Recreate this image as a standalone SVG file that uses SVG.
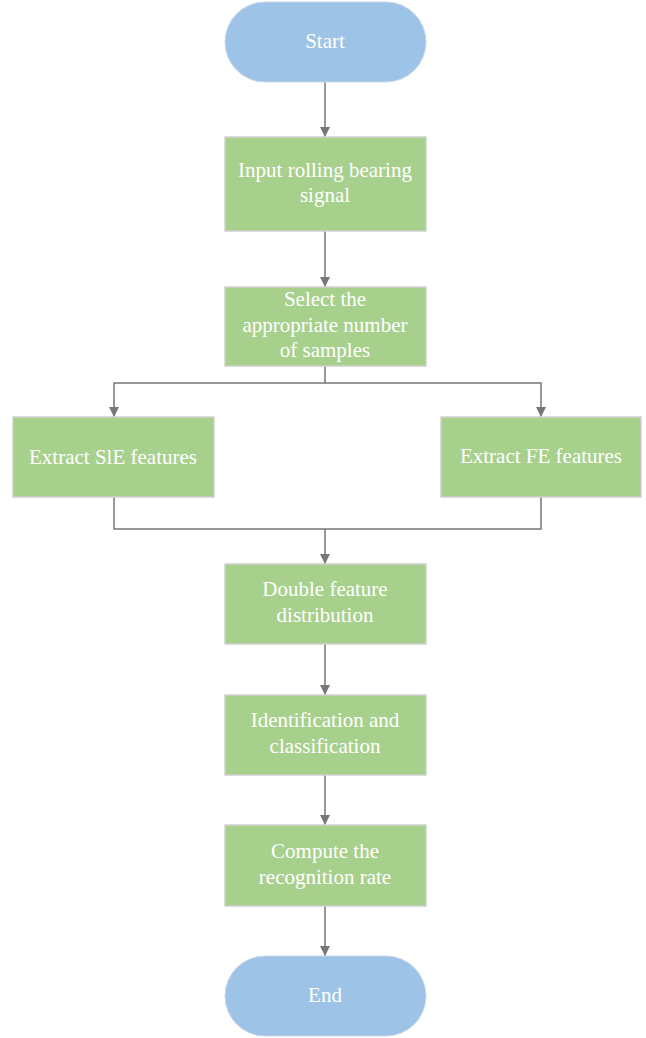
<svg xmlns="http://www.w3.org/2000/svg" width="646" height="1038" viewBox="0 0 646 1038">
<style>
.term{fill:#9dc3e6;stroke:#c8d8ea;stroke-width:1}
.box{fill:#a8d08d;stroke:#cfcfcf;stroke-width:1.5}
.t{font-family:'Liberation Serif','Times New Roman',serif;font-size:21px;fill:#ffffff;text-anchor:middle}
.c{fill:none;stroke:#777777;stroke-width:1.5}
</style>
<defs>
<marker id="ah" markerWidth="10" markerHeight="10" refX="10" refY="5" orient="auto" markerUnits="userSpaceOnUse">
<path d="M0,0 L10,5 L0,10 Z" fill="#777777"/>
</marker>
</defs>
<rect width="646" height="1038" fill="#ffffff"/>
<g id="connectors">
<path class="c" d="M325,82 V137" marker-end="url(#ah)"/>
<path class="c" d="M325,231 V287" marker-end="url(#ah)"/>
<path class="c" d="M325,366 V383 H114 V417" marker-end="url(#ah)"/>
<path class="c" d="M325,383 H541 V417" marker-end="url(#ah)"/>
<path class="c" d="M114,497 V529 H541 V497"/>
<path class="c" d="M325,529 V564" marker-end="url(#ah)"/>
<path class="c" d="M325,644 V695" marker-end="url(#ah)"/>
<path class="c" d="M325,775 V825" marker-end="url(#ah)"/>
<path class="c" d="M325,906 V956" marker-end="url(#ah)"/>
</g>
<g id="start">
<rect class="term" x="225" y="2" width="201" height="80" rx="40" ry="40"/>
<text class="t" x="325" y="48">Start</text>
</g>
<g id="input">
<rect class="box" x="225" y="137" width="201" height="94"/>
<text class="t" x="325" y="177">Input rolling bearing</text>
<text class="t" x="325" y="202">signal</text>
</g>
<g id="select">
<rect class="box" x="225" y="287" width="201" height="79"/>
<text class="t" x="325" y="306">Select the</text>
<text class="t" x="325" y="332">appropriate number</text>
<text class="t" x="325" y="357">of samples</text>
</g>
<g id="sle">
<rect class="box" x="13" y="417" width="201" height="80"/>
<text class="t" x="113" y="464">Extract SlE features</text>
</g>
<g id="fe">
<rect class="box" x="441" y="417" width="200" height="80"/>
<text class="t" x="541" y="463">Extract FE features</text>
</g>
<g id="double">
<rect class="box" x="225" y="564" width="201" height="80"/>
<text class="t" x="325" y="596">Double feature</text>
<text class="t" x="325" y="622">distribution</text>
</g>
<g id="ident">
<rect class="box" x="225" y="695" width="201" height="80"/>
<text class="t" x="325" y="727">Identification and</text>
<text class="t" x="325" y="753">classification</text>
</g>
<g id="compute">
<rect class="box" x="225" y="825" width="201" height="81"/>
<text class="t" x="325" y="858">Compute the</text>
<text class="t" x="325" y="884">recognition rate</text>
</g>
<g id="end">
<rect class="term" x="225" y="956" width="201" height="80" rx="40" ry="40"/>
<text class="t" x="325" y="1002">End</text>
</g>
</svg>
